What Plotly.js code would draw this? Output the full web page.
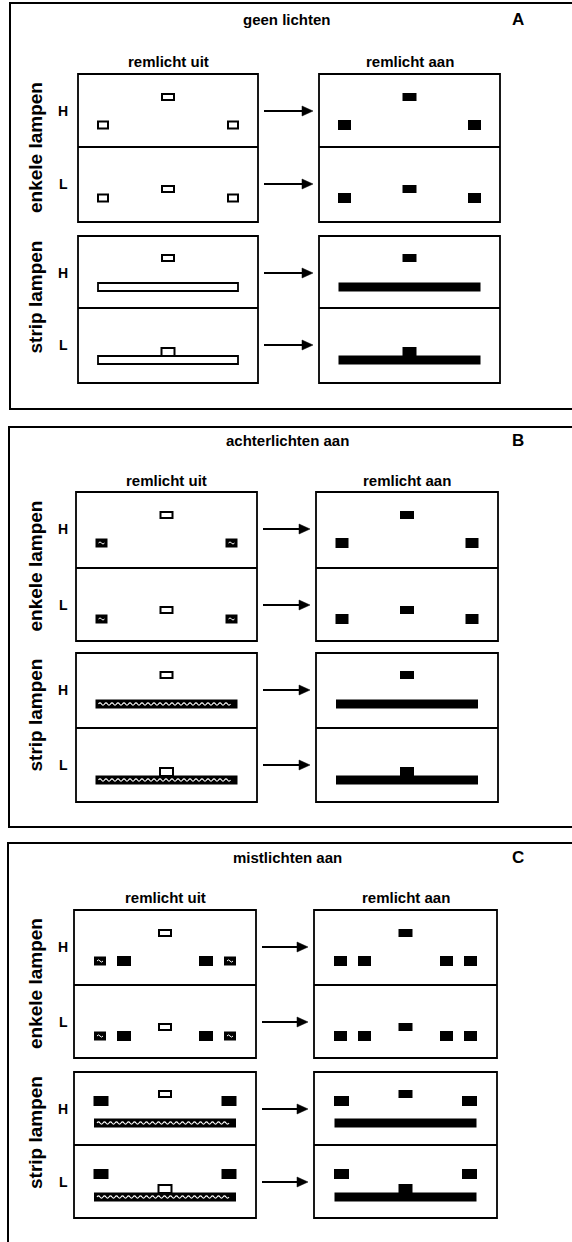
<!DOCTYPE html>
<html>
<head>
<meta charset="utf-8">
<script src="https://cdn.plot.ly/plotly-3.0.1.min.js"></script>
<style>html,body{margin:0;padding:0;background:#fff;}#chart{width:572px;height:1242px;}</style>
</head>
<body>
<div id="chart"></div>
<script>
// ---- data ----
const panelTitles = ['geen lichten', 'achterlichten aan', 'mistlichten aan'];
const panelLetters = ['A', 'B', 'C'];
const columnTitles = ['remlicht uit', 'remlicht aan'];
const groupLabels = ['enkele lampen', 'strip lampen'];
const rowLabels = ['H', 'L'];
const tailState = ['off', 'dim', 'dim'];   // rear lamps / strip while brake light is off
const fogOn = [false, false, true];         // fog lamps lit
const brakeState = ['off', 'on'];           // per column

// ---- geometry (layout, pixel-space axis units) ----
const geo = [
  {top: 3, bottom: 409, left: 10, title: 19, header: 61, lx: [78, 258], rx: [319, 500], enk: [74, 147, 222], str: [236, 308, 383]},
  {top: 427, bottom: 827, left: 9, title: 440, header: 480, lx: [76, 257], rx: [316, 498], enk: [492, 568, 641], str: [653, 728, 802]},
  {top: 843, bottom: 1260, left: 8, title: 857, header: 897, lx: [74, 256], rx: [314, 497], enk: [910, 985, 1058], str: [1072, 1145, 1218]}
];

const shapes = [];
const annotations = [];
const FONT = 'Liberation Sans, Arial, sans-serif';

function rect(x0, y0, x1, y1, fill, lw) {
  shapes.push({type: 'rect', xref: 'x', yref: 'y', x0: x0, y0: y0, x1: x1, y1: y1,
    fillcolor: fill, line: {color: '#000', width: lw}, layer: 'above'});
}
function pathShape(d, color, w) {
  shapes.push({type: 'path', xref: 'x', yref: 'y', path: d, line: {color: color, width: w}, layer: 'above'});
}
function wave(x0, x1, y, amp, half) {
  let d = 'M' + x0 + ',' + y + ' Q' + (x0 + half / 2) + ',' + (y - amp) + ' ' + (x0 + half) + ',' + y;
  for (let x = x0 + 2 * half; x <= x1 + 0.01; x += half) d += ' T' + x + ',' + y;
  return d;
}
function lamp(cx, cy, w, h, state) {
  const x0 = cx - w / 2, x1 = cx + w / 2, y0 = cy - h / 2, y1 = cy + h / 2;
  if (state === 'off') {
    rect(x0 + 1, y0 + 1, x1 - 1, y1 - 1, '#fff', 2);
  } else if (state === 'dim') {
    rect(x0, y0, x1, y1, '#000', 0);
    pathShape(wave(cx - 3, cx + 3, cy, 2.2, 3), '#fff', 1);
  } else {
    rect(x0, y0, x1, y1, '#000', 0);
  }
}
function bar(cx, cy, state) {
  const x0 = cx - 71, x1 = cx + 71;
  if (state === 'off') {
    rect(x0 + 1, cy - 4, x1 - 1, cy + 4, '#fff', 1.8);
  } else if (state === 'dim') {
    rect(x0, cy - 4.5, x1, cy + 4.5, '#000', 0);
    pathShape(wave(x0 + 3, x1 - 5, cy, 2.2, 3), '#fff', 1.1);
  } else {
    rect(x0, cy - 4.5, x1, cy + 4.5, '#000', 0);
  }
}
function text(x, y, s, size, angle) {
  annotations.push({xref: 'x', yref: 'y', x: x, y: y, text: s, showarrow: false,
    textangle: angle || 0, xanchor: 'center', yanchor: 'middle',
    font: {family: FONT, size: size, color: '#000', weight: 700}});
}
function arrow(x0, x1, y) {
  shapes.push({type: 'line', xref: 'x', yref: 'y', x0: x0, y0: y, x1: x1 - 8, y1: y,
    line: {color: '#000', width: 2}, layer: 'above'});
  shapes.push({type: 'path', xref: 'x', yref: 'y',
    path: 'M' + (x1 - 11) + ',' + (y - 5) + ' L' + x1 + ',' + y + ' L' + (x1 - 11) + ',' + (y + 5) + ' Z',
    fillcolor: '#000', line: {color: '#000', width: 0.5}, layer: 'above'});
}

const markerX = [], markerY = [];

panelTitles.forEach(function (title, p) {
  const g = geo[p];
  // outer frame (right edge falls outside the picture)
  rect(g.left, g.top, 590, g.bottom, 'rgba(0,0,0,0)', 2);
  text(287, g.title, title, 15);
  text(518, g.title, panelLetters[p], 17);

  const boxes = [g.lx, g.rx];
  columnTitles.forEach(function (ct, c) {
    const bx = boxes[c];
    const cx = (bx[0] + bx[1]) / 2;
    text(cx, g.header, ct, 15);
    [g.enk, g.str].forEach(function (gr) {
      rect(bx[0], gr[0], bx[1], gr[2], 'rgba(0,0,0,0)', 1.8);
      shapes.push({type: 'line', xref: 'x', yref: 'y', x0: bx[0], x1: bx[1], y0: gr[1], y1: gr[1],
        line: {color: '#000', width: 1.8}, layer: 'above'});
    });
    const brake = brakeState[c];
    const side = c === 0 ? tailState[p] : 'on';
    const sw = side === 'on' ? 13 : 12, sh = side === 'on' ? 10 : 9;

    // enkele lampen
    rowLabels.forEach(function (rl, r) {
      const rt = g.enk[r];
      const cy = r === 0 ? rt + 23 : rt + 42;
      const sy = rt + 51;
      lamp(cx, cy, 14, 8, brake);
      lamp(cx - 65, sy, sw, sh, side);
      lamp(cx + 65, sy, sw, sh, side);
      markerX.push(cx); markerY.push(cy);
      if (fogOn[p]) {
        lamp(cx - 41, sy, c === 0 ? 14 : 13, 10, 'fog');
        lamp(cx + 41, sy, c === 0 ? 14 : 13, 10, 'fog');
      }
    });
    // strip lampen
    rowLabels.forEach(function (rl, r) {
      const rt = g.str[r];
      const by = r === 0 ? rt + 51 : rt + 52;
      bar(cx, by, side);
      if (r === 0) {
        lamp(cx, rt + 22, 14, 8, brake);
      } else {
        const bt = by - 4;
        if (brake === 'off') rect(cx - 6.5, bt - 8, cx + 6.5, bt, '#fff', 2);
        else rect(cx - 7, bt - 9, cx + 7, bt + 1, '#000', 0);
      }
      if (fogOn[p]) {
        lamp(cx - 64, rt + 29, 15, 10, 'fog');
        lamp(cx + 64, rt + 29, 15, 10, 'fog');
      }
      markerX.push(cx); markerY.push(by);
    });
  });

  // row labels and arrows
  [g.enk, g.str].forEach(function (gr, k) {
    const mid = (gr[0] + gr[2]) / 2 - (k === 1 ? 12 : 0);
    text(35, mid, groupLabels[k], 19, -90);
    rowLabels.forEach(function (rl, r) {
      const y = gr[r] + 37;
      text(63, y, rl, 14);
      arrow(g.lx[1] + 6, g.rx[0] - 6, y);
    });
  });
});

const data = [{type: 'scatter', mode: 'markers', x: markerX, y: markerY,
  marker: {opacity: 0, size: 1}, hoverinfo: 'skip', showlegend: false}];

const layout = {
  width: 572, height: 1242,
  margin: {l: 0, r: 0, t: 0, b: 0},
  paper_bgcolor: '#fff', plot_bgcolor: '#fff',
  xaxis: {range: [0, 572], visible: false, fixedrange: true},
  yaxis: {range: [1242, 0], visible: false, fixedrange: true},
  shapes: shapes, annotations: annotations, showlegend: false
};
Plotly.newPlot('chart', data, layout, {staticPlot: true, displayModeBar: false});
</script>
</body>
</html>
